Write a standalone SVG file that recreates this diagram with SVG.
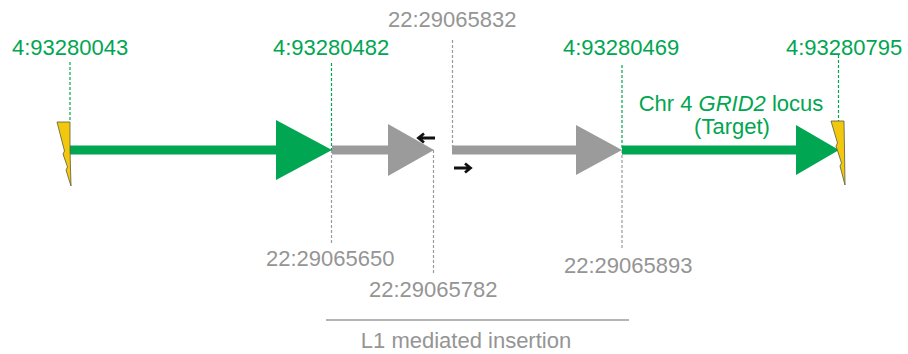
<svg xmlns="http://www.w3.org/2000/svg" width="908" height="354" viewBox="0 0 908 354">
<defs>
<style>
text{font-family:"Liberation Sans",Arial,sans-serif;font-size:22px}
.gt{fill:#00a651}
.yt{fill:#959595}
.g{fill:#00a651}
.y{fill:#9b9b9b}
.gl{stroke:#00a651;stroke-width:9}
.yl{stroke:#9b9b9b;stroke-width:9}
.gd{stroke:#00a651;stroke-width:1.2;stroke-dasharray:3,2;fill:none}
.yd{stroke:#9b9b9b;stroke-width:1.2;stroke-dasharray:3,2;fill:none}
.wedge{fill:#f2c80f;stroke:#5a5a3a;stroke-width:0.8;stroke-linejoin:round}
.prim{stroke:#111;stroke-width:2.8;fill:none;stroke-linecap:butt;stroke-linejoin:miter}
</style>
</defs>
<rect width="908" height="354" fill="#ffffff"/>
<g id="connectors">
<line class="gd" x1="70" y1="62" x2="70" y2="122"/>
<line class="gd" x1="331.5" y1="63" x2="331.5" y2="150"/>
<line class="yd" x1="331.5" y1="150" x2="331.5" y2="243"/>
<line class="yd" x1="433.5" y1="150" x2="433.5" y2="274"/>
<line class="yd" x1="452.5" y1="40" x2="452.5" y2="150"/>
<line class="gd" x1="622" y1="65" x2="622" y2="150"/>
<line class="yd" x1="622" y1="150" x2="622" y2="248"/>
<line class="gd" x1="838.5" y1="55" x2="838.5" y2="121"/>
<line x1="326" y1="320" x2="629" y2="320" stroke="#9b9b9b" stroke-width="1.5"/>
</g>
<g id="segment-chr4-left">
<line class="gl" x1="70" y1="150" x2="280" y2="150"/>
<polygon class="g" points="276,120 332,150 276,180"/>
</g>
<g id="segment-chr22-a">
<line class="yl" x1="332" y1="150" x2="392" y2="150"/>
<polygon class="y" points="388,124 434,150 388,176"/>
</g>
<g id="segment-chr22-b">
<line class="yl" x1="452" y1="150" x2="580" y2="150"/>
<polygon class="y" points="576,125 622,150 576,175"/>
</g>
<g id="segment-chr4-right">
<line class="gl" x1="622" y1="150" x2="800" y2="150"/>
<polygon class="g" points="796,125 839,150 796,175"/>
</g>
<g id="break-left">
<polygon class="wedge" points="57,122 70,122 70,150 71,186 66,170 67.5,167 63,154 64.5,151 57,122"/>
</g>
<g id="break-right">
<polygon class="wedge" points="831,121 844,121 844.5,150 845,185 840,166 841.5,163 836,146 837.5,143 831,121"/>
</g>
<g id="primer-reverse">
<path class="prim" d="M435,138 H419 M424,133.5 L418.5,138 L424,142.5"/>
</g>
<g id="primer-forward">
<path class="prim" d="M454,168 H470 M465,163.5 L470.5,168 L465,172.5"/>
</g>
<g id="labels">
<text class="gt" x="12" y="55">4:93280043</text>
<text class="gt" x="273" y="55">4:93280482</text>
<text class="gt" x="563" y="55">4:93280469</text>
<text class="gt" x="786" y="55">4:93280795</text>
<text class="yt" x="388" y="27">22:29065832</text>
<text class="yt" x="266" y="266">22:29065650</text>
<text class="yt" x="369" y="297">22:29065782</text>
<text class="yt" x="564" y="273">22:29065893</text>
<text class="gt" x="731" y="111" text-anchor="middle">Chr 4 <tspan font-style="italic">GRID2</tspan> locus</text>
<text class="gt" x="732" y="134" text-anchor="middle">(Target)</text>
<text class="yt" x="466" y="348" text-anchor="middle">L1 mediated insertion</text>
</g>
</svg>
